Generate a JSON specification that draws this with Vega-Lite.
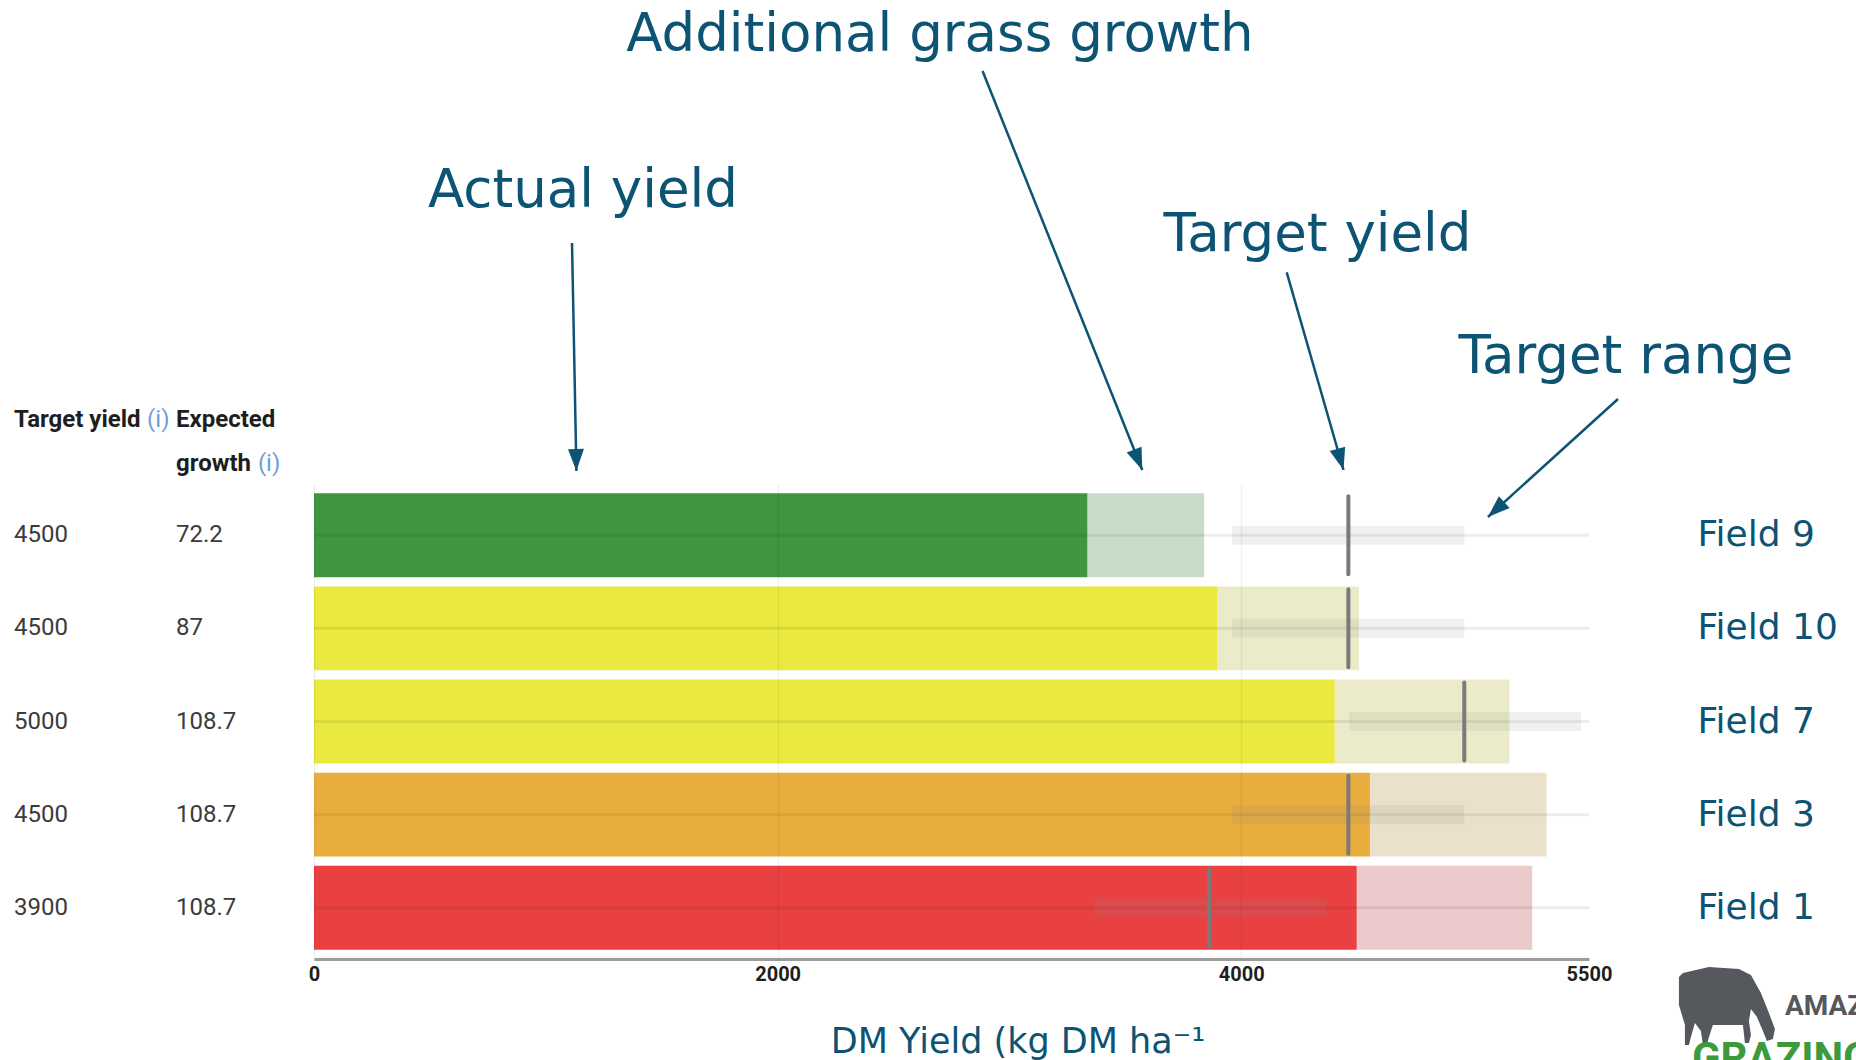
{
  "$schema": "https://vega.github.io/schema/vega-lite/v6.json",
  "width": 1275,
  "height": 475,
  "autosize": {"type": "none"},
  "padding": {"left": 314, "right": 267, "top": 484, "bottom": 101},
  "background": "white",
  "datasets": {
    "fields": [
      {"field": "Field 9", "target_yield": 4500, "expected_growth": 72.2, "actual": 3336, "projected": 3840, "target_mark": 4462, "range_low": 3961, "range_high": 4962, "status": "green"},
      {"field": "Field 10", "target_yield": 4500, "expected_growth": 87, "actual": 3897, "projected": 4508, "target_mark": 4462, "range_low": 3961, "range_high": 4962, "status": "yellow"},
      {"field": "Field 7", "target_yield": 5000, "expected_growth": 108.7, "actual": 4403, "projected": 5157, "target_mark": 4962, "range_low": 4465, "range_high": 5466, "status": "yellow"},
      {"field": "Field 3", "target_yield": 4500, "expected_growth": 108.7, "actual": 4555, "projected": 5317, "target_mark": 4462, "range_low": 3960, "range_high": 4962, "status": "orange"},
      {"field": "Field 1", "target_yield": 3900, "expected_growth": 108.7, "actual": 4498, "projected": 5255, "target_mark": 3862, "range_low": 3366, "range_high": 4368, "status": "red"}
    ],
    "notes": [
      {"text": "Additional grass growth", "x": 2700, "y": -4.202},
      {"text": "Actual yield", "x": 1160, "y": -2.524},
      {"text": "Target yield", "x": 4329, "y": -2.052},
      {"text": "Target range", "x": 5659, "y": -0.742}
    ],
    "arrows": [
      {"label": "Actual yield", "x": 1113, "y": -2.138, "x2": 1132, "y2": 0.31, "heading": 178.8},
      {"label": "Additional grass growth", "x": 2884, "y": -3.984, "x2": 3573, "y2": 0.3, "heading": 158.2},
      {"label": "Target yield", "x": 4196, "y": -1.823, "x2": 4441, "y2": 0.3, "heading": 164.0},
      {"label": "Target range", "x": 5625, "y": -0.463, "x2": 5064, "y2": 0.804, "heading": 227.8}
    ],
    "headers": [
      {"text": "Target yield", "x": -1294, "y": -0.237},
      {"text": "Expected", "x": -595, "y": -0.237},
      {"text": "growth", "x": -595, "y": 0.235}
    ],
    "infos": [
      {"text": "(i)", "x": -720, "y": -0.237},
      {"text": "(i)", "x": -242, "y": 0.235}
    ],
    "xtitle": [{"text": "DM Yield (kg DM ha⁻¹", "x": 3037, "y": 6.559}],
    "logo": [{"name": "cow", "x": 6095, "y": 6.044}],
    "logoTop": [{"text": "AMAZING", "x": 6345, "y": 6.151}],
    "logoBottom": [{"text": "GRAZING", "x": 5944, "y": 6.763}]
  },
  "layer": [
    {
      "data": {"name": "fields"},
      "layer": [
        {
          "mark": {"type": "bar"},
          "encoding": {
            "y": {
              "field": "field", "type": "nominal", "title": null,
              "sort": ["Field 9", "Field 10", "Field 7", "Field 3", "Field 1"],
              "scale": {"domain": ["Field 9", "Field 10", "Field 7", "Field 3", "Field 1"], "paddingInner": 0.1, "paddingOuter": 0.1},
              "axis": {"orient": "right", "title": null, "domain": false, "ticks": false, "grid": false, "labelFont": "DejaVu Sans", "labelFontSize": 36, "labelColor": "#0c5374", "labelPadding": 108, "labelAlign": "left", "labelBaseline": "middle", "labelLimit": 300}
            },
            "x": {"field": "actual", "type": "quantitative", "title": null, "scale": {"domain": [0, 5500], "nice": false}},
            "x2": {"field": "projected"},
            "fill": {"field": "status", "type": "nominal", "scale": {"domain": ["green", "yellow", "orange", "red"], "range": ["#c9dcc9", "#ebebca", "#ebe0ca", "#ecc9ca"]}, "legend": null}
          }
        },
        {
          "mark": {"type": "bar"},
          "encoding": {
            "y": {"field": "field", "type": "nominal", "title": null, "sort": ["Field 9", "Field 10", "Field 7", "Field 3", "Field 1"], "scale": {"domain": ["Field 9", "Field 10", "Field 7", "Field 3", "Field 1"], "paddingInner": 0.1, "paddingOuter": 0.1}},
            "x": {
              "field": "actual", "type": "quantitative", "title": null, "scale": {"domain": [0, 5500], "nice": false},
              "axis": {
                "values": [0, 2000, 4000, 5500], "format": "d", "title": null, "labelFlush": false, "ticks": false,
                "domainColor": "#9c9c9c", "domainWidth": 3,
                "labelFont": "Roboto", "labelFontWeight": "bold", "labelFontSize": 20, "labelColor": "#1f1f1f", "labelPadding": 5,
                "grid": true, "gridColor": "#000000", "gridWidth": 1.5,
                "gridOpacity": {"condition": {"test": "datum.value === 5500", "value": 0}, "value": 0.06},
                "zindex": 1
              }
            },
            "color": {"field": "status", "type": "nominal", "scale": {"domain": ["green", "yellow", "orange", "red"], "range": ["#409640", "#e9e93f", "#e9ad3d", "#e94142"]}, "legend": null}
          }
        },
        {
          "mark": {"type": "rule", "color": "#000000", "opacity": 0.07, "strokeWidth": 3},
          "encoding": {
            "y": {"field": "field", "type": "nominal", "title": null, "sort": ["Field 9", "Field 10", "Field 7", "Field 3", "Field 1"], "scale": {"domain": ["Field 9", "Field 10", "Field 7", "Field 3", "Field 1"], "paddingInner": 0.1, "paddingOuter": 0.1}},
            "x": {"datum": 0, "type": "quantitative", "title": null, "scale": {"domain": [0, 5500], "nice": false}},
            "x2": {"datum": 5500}
          }
        },
        {
          "mark": {"type": "bar", "height": 19, "color": "#888888", "opacity": 0.13},
          "encoding": {
            "y": {"field": "field", "type": "nominal", "title": null, "sort": ["Field 9", "Field 10", "Field 7", "Field 3", "Field 1"], "scale": {"domain": ["Field 9", "Field 10", "Field 7", "Field 3", "Field 1"], "paddingInner": 0.1, "paddingOuter": 0.1}},
            "x": {"field": "range_low", "type": "quantitative", "title": null, "scale": {"domain": [0, 5500], "nice": false}},
            "x2": {"field": "range_high"}
          }
        },
        {
          "mark": {"type": "tick", "orient": "vertical", "size": 82, "thickness": 4, "color": "#7a7a7a", "opacity": 1, "cornerRadius": 2},
          "encoding": {
            "y": {"field": "field", "type": "nominal", "title": null, "sort": ["Field 9", "Field 10", "Field 7", "Field 3", "Field 1"], "scale": {"domain": ["Field 9", "Field 10", "Field 7", "Field 3", "Field 1"], "paddingInner": 0.1, "paddingOuter": 0.1}},
            "x": {"field": "target_mark", "type": "quantitative", "title": null, "scale": {"domain": [0, 5500], "nice": false}}
          }
        },
        {
          "mark": {"type": "text", "align": "left", "baseline": "middle", "font": "Roboto", "fontSize": 24, "color": "#3b3b3b"},
          "encoding": {
            "y": {"field": "field", "type": "nominal", "title": null, "sort": ["Field 9", "Field 10", "Field 7", "Field 3", "Field 1"], "scale": {"domain": ["Field 9", "Field 10", "Field 7", "Field 3", "Field 1"], "paddingInner": 0.1, "paddingOuter": 0.1}},
            "x": {"datum": -1294, "type": "quantitative", "title": null, "scale": {"domain": [0, 5500], "nice": false}},
            "text": {"field": "target_yield", "type": "nominal"}
          }
        },
        {
          "mark": {"type": "text", "align": "left", "baseline": "middle", "font": "Roboto", "fontSize": 24, "color": "#3b3b3b"},
          "encoding": {
            "y": {"field": "field", "type": "nominal", "title": null, "sort": ["Field 9", "Field 10", "Field 7", "Field 3", "Field 1"], "scale": {"domain": ["Field 9", "Field 10", "Field 7", "Field 3", "Field 1"], "paddingInner": 0.1, "paddingOuter": 0.1}},
            "x": {"datum": -595, "type": "quantitative", "title": null, "scale": {"domain": [0, 5500], "nice": false}},
            "text": {"field": "expected_growth", "type": "nominal"}
          }
        }
      ]
    },
    {
      "layer": [
        {
          "data": {"name": "notes"},
          "mark": {"type": "text", "align": "center", "baseline": "alphabetic", "font": "DejaVu Sans", "fontSize": 53, "color": "#0c5374"},
          "encoding": {
            "x": {"field": "x", "type": "quantitative", "title": null, "scale": {"domain": [0, 5500], "nice": false}},
            "y": {"field": "y", "type": "quantitative", "title": null, "scale": {"domain": [0.45, 5.55], "reverse": true, "nice": false, "zero": false}, "axis": null},
            "text": {"field": "text", "type": "nominal"}
          }
        },
        {
          "data": {"name": "arrows"},
          "mark": {"type": "rule", "color": "#0c5374", "strokeWidth": 2.5},
          "encoding": {
            "x": {"field": "x", "type": "quantitative", "title": null, "scale": {"domain": [0, 5500], "nice": false}},
            "y": {"field": "y", "type": "quantitative", "title": null, "scale": {"domain": [0.45, 5.55], "reverse": true, "nice": false, "zero": false}, "axis": null},
            "x2": {"field": "x2"},
            "y2": {"field": "y2"}
          }
        },
        {
          "data": {"name": "arrows"},
          "mark": {"type": "point", "shape": "M0,0L-0.8,2.2L0.8,2.2Z", "size": 400, "filled": true, "color": "#0c5374", "opacity": 1, "strokeWidth": 0},
          "encoding": {
            "x": {"field": "x2", "type": "quantitative", "title": null, "scale": {"domain": [0, 5500], "nice": false}},
            "y": {"field": "y2", "type": "quantitative", "title": null, "scale": {"domain": [0.45, 5.55], "reverse": true, "nice": false, "zero": false}, "axis": null},
            "angle": {"field": "heading", "type": "quantitative", "scale": null}
          }
        },
        {
          "data": {"name": "headers"},
          "mark": {"type": "text", "align": "left", "baseline": "middle", "font": "Roboto", "fontWeight": "bold", "fontSize": 24, "color": "#1e1e1e"},
          "encoding": {
            "x": {"field": "x", "type": "quantitative", "title": null, "scale": {"domain": [0, 5500], "nice": false}},
            "y": {"field": "y", "type": "quantitative", "title": null, "scale": {"domain": [0.45, 5.55], "reverse": true, "nice": false, "zero": false}, "axis": null},
            "text": {"field": "text", "type": "nominal"}
          }
        },
        {
          "data": {"name": "infos"},
          "mark": {"type": "text", "align": "left", "baseline": "middle", "font": "Roboto", "fontSize": 24, "color": "#6f9fd6"},
          "encoding": {
            "x": {"field": "x", "type": "quantitative", "title": null, "scale": {"domain": [0, 5500], "nice": false}},
            "y": {"field": "y", "type": "quantitative", "title": null, "scale": {"domain": [0.45, 5.55], "reverse": true, "nice": false, "zero": false}, "axis": null},
            "text": {"field": "text", "type": "nominal"}
          }
        },
        {
          "data": {"name": "xtitle"},
          "mark": {"type": "text", "align": "center", "baseline": "alphabetic", "font": "DejaVu Sans", "fontSize": 35, "color": "#0c5374"},
          "encoding": {
            "x": {"field": "x", "type": "quantitative", "title": null, "scale": {"domain": [0, 5500], "nice": false}},
            "y": {"field": "y", "type": "quantitative", "title": null, "scale": {"domain": [0.45, 5.55], "reverse": true, "nice": false, "zero": false}, "axis": null},
            "text": {"field": "text", "type": "nominal"}
          }
        },
        {
          "data": {"name": "logo"},
          "mark": {"type": "point", "shape": "M-0.917,-0.667L-0.375,-0.792L0.25,-0.75L0.5,-0.625L0.708,-0.25L0.875,0.167L1,0.5L0.958,0.708L0.833,0.75L0.75,0.542L0.625,0.25L0.5,0.083L0.458,0.333L0.5,0.625L0.458,0.792L0.375,0.792L0.333,0.417L0.083,0.417L-0.292,0.417L-0.375,0.667L-0.417,0.833L-0.5,0.833L-0.542,0.542L-0.667,0.375L-0.75,0.667L-0.792,0.833L-0.875,0.833L-0.875,0.417L-1,0L-1,-0.583Z", "size": 9216, "filled": true, "color": "#55585c", "opacity": 1, "strokeWidth": 0},
          "encoding": {
            "x": {"field": "x", "type": "quantitative", "title": null, "scale": {"domain": [0, 5500], "nice": false}},
            "y": {"field": "y", "type": "quantitative", "title": null, "scale": {"domain": [0.45, 5.55], "reverse": true, "nice": false, "zero": false}, "axis": null}
          }
        },
        {
          "data": {"name": "logoTop"},
          "mark": {"type": "text", "align": "left", "baseline": "alphabetic", "font": "Roboto", "fontWeight": "bold", "fontSize": 28, "color": "#55585c"},
          "encoding": {
            "x": {"field": "x", "type": "quantitative", "title": null, "scale": {"domain": [0, 5500], "nice": false}},
            "y": {"field": "y", "type": "quantitative", "title": null, "scale": {"domain": [0.45, 5.55], "reverse": true, "nice": false, "zero": false}, "axis": null},
            "text": {"field": "text", "type": "nominal"}
          }
        },
        {
          "data": {"name": "logoBottom"},
          "mark": {"type": "text", "align": "left", "baseline": "alphabetic", "font": "Roboto", "fontWeight": "bold", "fontSize": 42, "color": "#3c9a3c"},
          "encoding": {
            "x": {"field": "x", "type": "quantitative", "title": null, "scale": {"domain": [0, 5500], "nice": false}},
            "y": {"field": "y", "type": "quantitative", "title": null, "scale": {"domain": [0.45, 5.55], "reverse": true, "nice": false, "zero": false}, "axis": null},
            "text": {"field": "text", "type": "nominal"}
          }
        }
      ]
    }
  ],
  "resolve": {"scale": {"y": "independent"}},
  "config": {"view": {"stroke": null}, "text": {"font": "DejaVu Sans"}, "axis": {"titleOpacity": 0}}
}
